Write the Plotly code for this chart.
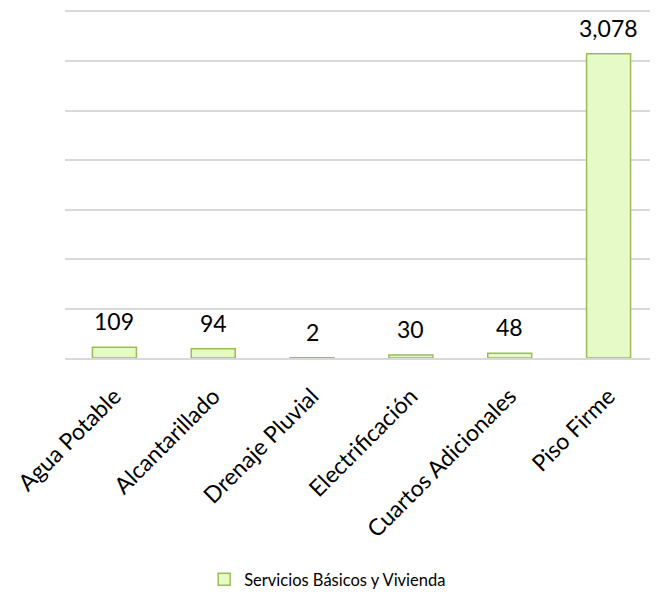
import plotly.graph_objects as go

categories = ["Agua Potable", "Alcantarillado", "Drenaje Pluvial", "Electrificación",
              "Cuartos Adicionales", "Piso Firme"]
values = [109, 94, 2, 30, 48, 3078]
labels = ["109", "94", "2", "30", "48", "3,078"]
series_name = "Servicios Básicos y Vivienda"

FONT = "Lato, Open Sans, sans-serif"

fig = go.Figure()
fig.add_trace(go.Bar(
    x=categories, y=values, name=series_name,
    marker=dict(color="#E6FAC8", line=dict(color="#9BBB59", width=1.5)),
))

for c, v, t in zip(categories, values, labels):
    fig.add_annotation(x=c, y=v, text=t, showarrow=False, yanchor="bottom",
                       yshift=10, font=dict(size=23, color="#000000", family=FONT))

fig.update_layout(
    width=650, height=594,
    margin=dict(l=57, r=0, t=4, b=244),
    paper_bgcolor="white", plot_bgcolor="white",
    bargap=0.555,
    font=dict(family=FONT, color="#000000"),
    showlegend=True,
    legend=dict(orientation="h", x=0.443, xanchor="center", y=-0.64, yanchor="middle",
                font=dict(size=16.5), itemwidth=30),
    xaxis=dict(tickangle=-45, tickfont=dict(size=23), showline=True, mirror=True,
               linecolor="#D9D9D9", linewidth=1.5, ticks="", showgrid=False,
               ticklabelstandoff=14),
    yaxis=dict(range=[0, 3500], dtick=500, showticklabels=False, showgrid=True,
               gridcolor="#D9D9D9", gridwidth=1.5, zeroline=False, ticks=""),
)

fig.write_html("out.html")
